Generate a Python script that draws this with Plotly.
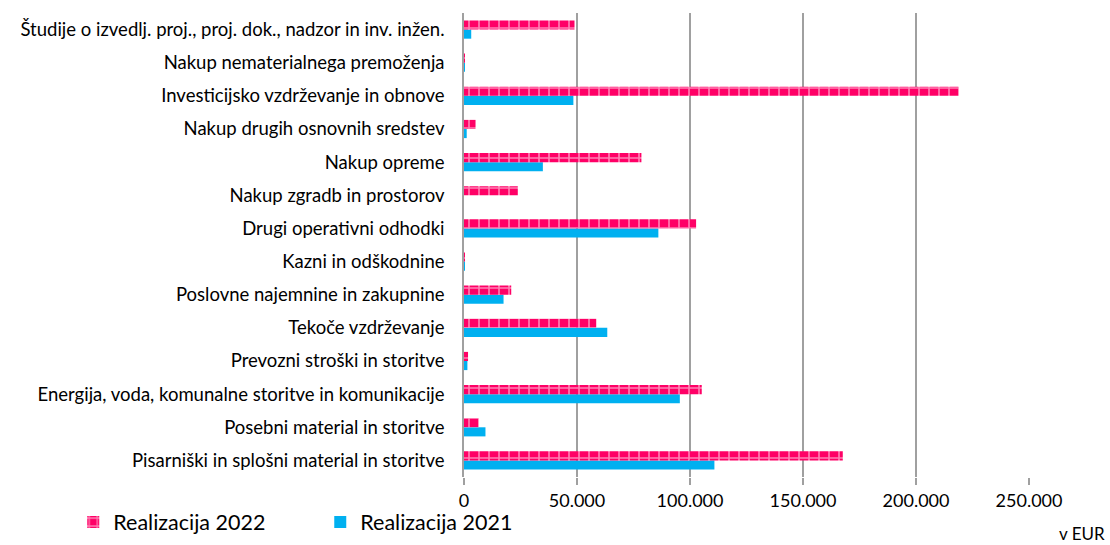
import plotly.graph_objects as go

# Expenditure categories, listed bottom to top as drawn on the y axis
categories = [
    "Pisarniški in splošni material in storitve",
    "Posebni material in storitve",
    "Energija, voda, komunalne storitve in komunikacije",
    "Prevozni stroški in storitve",
    "Tekoče vzdrževanje",
    "Poslovne najemnine in zakupnine",
    "Kazni in odškodnine",
    "Drugi operativni odhodki",
    "Nakup zgradb in prostorov",
    "Nakup opreme",
    "Nakup drugih osnovnih sredstev",
    "Investicijsko vzdrževanje in obnove",
    "Nakup nematerialnega premoženja",
    "Študije o izvedlj. proj., proj. dok., nadzor in inv. inžen.",
]

# Realised amounts in EUR
real_2022 = [167600, 6500, 105200, 1800, 58500, 20900, 300, 102700, 23800, 78500, 5100, 218900, 200, 48900]
real_2021 = [110800, 9500, 95500, 1500, 63400, 17500, 200, 86000, 0, 34900, 1200, 48400, 100, 3200]

x_ticks = [0, 50000, 100000, 150000, 200000, 250000]

PINK = "#FF0066"
BLUE = "#00B0F0"
FONT = "Lato"

fig = go.Figure()

# 2021 is added first so that it sits below 2022 inside each group
fig.add_trace(go.Bar(
    y=categories, x=real_2021, orientation="h", name="Realizacija 2021",
    marker=dict(color=BLUE, line=dict(width=0)), legendrank=2,
))
fig.add_trace(go.Bar(
    y=categories, x=real_2022, orientation="h", name="Realizacija 2022",
    marker=dict(
        color=PINK, line=dict(width=0),
        pattern=dict(shape="+", fgcolor="white", bgcolor=PINK, size=10, solidity=0.3),
    ),
    legendrank=1,
))

fig.update_layout(
    width=1110, height=545,
    margin=dict(l=464, r=81, t=13, b=68, autoexpand=False),
    paper_bgcolor="white", plot_bgcolor="white",
    barmode="group", bargap=0.45, bargroupgap=0,
    separators=",.",
    font=dict(family=FONT, size=18, color="#000000"),
    showlegend=True,
    legend=dict(
        orientation="h", xref="container", yref="container",
        x=0.066, y=0.042, xanchor="left", yanchor="middle",
        font=dict(size=21.5, family=FONT), entrywidth=202, entrywidthmode="pixels",
        itemwidth=30, bgcolor="rgba(0,0,0,0)",
    ),
    xaxis=dict(
        range=[0, 250000], tickvals=x_ticks, tickformat=",d",
        showgrid=True, gridcolor="#A0A0A0", gridwidth=1.5,
        ticks="outside", ticklen=7, tickcolor="#A0A0A0", tickwidth=1.5,
        zeroline=False, showline=False,
        tickfont=dict(size=18, family=FONT),
    ),
    yaxis=dict(
        showline=True, linecolor="#A0A0A0", linewidth=1.5,
        ticks="", ticklabelstandoff=14,
        tickfont=dict(size=18.5, family=FONT),
    ),
    annotations=[dict(
        text="v EUR", xref="paper", yref="paper", x=1.094, y=-0.121,
        xanchor="center", yanchor="middle", showarrow=False,
        font=dict(size=17, family=FONT),
    )],
)

fig.write_html("out.html")
